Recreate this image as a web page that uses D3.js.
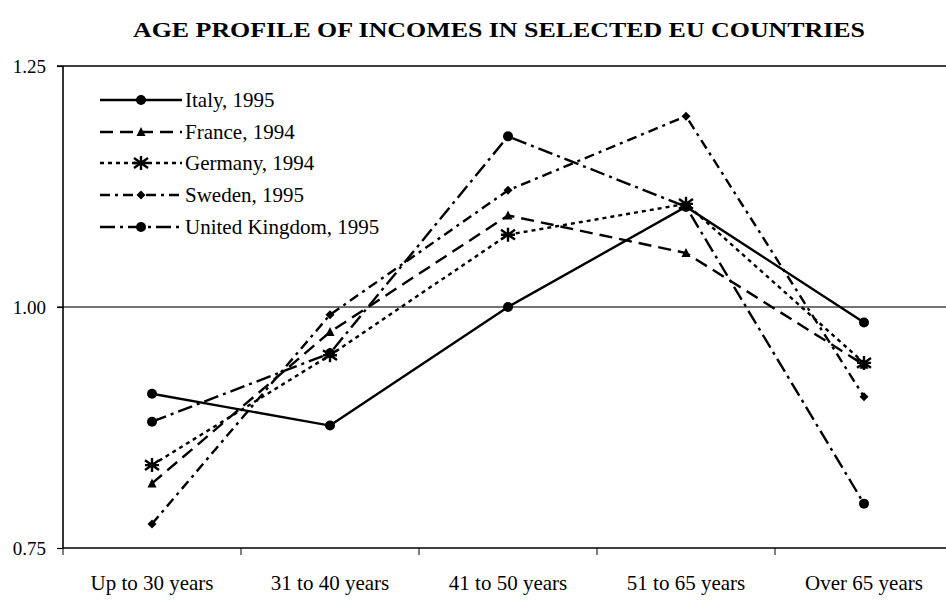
<!DOCTYPE html>
<html>
<head>
<meta charset="utf-8">
<script src="https://cdn.jsdelivr.net/npm/d3@7"></script>
<style>
  html, body { margin: 0; padding: 0; background: #fff; }
  svg { display: block; }
  text { font-family: "Liberation Serif", "Times New Roman", serif; fill: #000; }
</style>
</head>
<body>
<svg id="chart" width="946" height="601"></svg>
<script>
const categories = ["Up to 30 years", "31 to 40 years", "41 to 50 years", "51 to 65 years", "Over 65 years"];
const seriesNames = ["Italy, 1995", "France, 1994", "Germany, 1994", "Sweden, 1995", "United Kingdom, 1995"];
const italy   = [0.910, 0.877, 1.000, 1.104, 0.984];
const france  = [0.817, 0.974, 1.095, 1.056, 0.940];
const germany = [0.836, 0.950, 1.075, 1.107, 0.942];
const sweden  = [0.775, 0.992, 1.121, 1.198, 0.907];
const uk      = [0.881, 0.952, 1.177, 1.104, 0.796];
const yTicks = [0.75, 1.00, 1.25];
const title = "AGE PROFILE OF INCOMES IN SELECTED EU COUNTRIES";

const seriesValues = [italy, france, germany, sweden, uk];
const dashes = ["none", "13,7", "4,4", "10,5,3,5", "15,5,3,5"];
const markers = ["circle", "triangle", "asterisk", "diamond", "circle"];

const svg = d3.select("#chart");
const x = d3.scaleBand().domain(categories).range([63, 953]);
const y = d3.scaleLinear().domain([0.75, 1.25]).range([548, 66]);

// Title
svg.append("text").attr("x", 499).attr("y", 37)
  .attr("text-anchor", "middle").attr("font-weight", "bold").attr("font-size", 21)
  .attr("textLength", 732).attr("lengthAdjust", "spacingAndGlyphs")
  .text(title);

// Gridlines
svg.append("g").selectAll("line").data(yTicks.filter(d => d > 0.75)).join("line")
  .attr("x1", 57).attr("x2", 946).attr("y1", d => y(d)).attr("y2", d => y(d))
  .attr("stroke", d => d === 1.25 ? "#000" : "#444").attr("stroke-width", 1.3);

// Y axis
const yAxis = d3.axisLeft(y).tickValues(yTicks).tickFormat(d3.format(".2f")).tickSize(6).tickPadding(11);
const gy = svg.append("g").attr("transform", "translate(63,0)").call(yAxis);
gy.select(".domain").attr("stroke", "#000").attr("stroke-width", 1.6).attr("d", "M0,66V548");
gy.selectAll(".tick line").attr("stroke", "#000").attr("stroke-width", 1.2);
gy.selectAll("text").attr("font-family", "Liberation Serif, serif").attr("font-size", 19)
  .attr("fill", "#000").attr("dy", "0.35em");

// X axis
const gx = svg.append("g").attr("transform", "translate(0,548)");
gx.append("line").attr("x1", 63).attr("x2", 946).attr("y1", 0).attr("y2", 0)
  .attr("stroke", "#000").attr("stroke-width", 1.6);
const boundaries = categories.map(c => x(c));
gx.selectAll(".xt").data(boundaries).join("line").attr("class", "xt")
  .attr("x1", d => d).attr("x2", d => d).attr("y1", 0).attr("y2", 7)
  .attr("stroke", "#000").attr("stroke-width", 1);
gx.selectAll(".xl").data(categories).join("text").attr("class", "xl")
  .attr("x", d => x(d) + x.bandwidth() / 2).attr("y", 42)
  .attr("text-anchor", "middle").attr("font-size", 21).text(d => d);

const cx = c => x(c) + x.bandwidth() / 2;
const line = d3.line().x((d, i) => cx(categories[i])).y(d => y(d));

function drawMarker(g, type, px, py) {
  if (type === "circle") {
    g.append("circle").attr("cx", px).attr("cy", py).attr("r", 5).attr("fill", "#000");
  } else if (type === "triangle") {
    g.append("path").attr("d", `M${px},${py-5}L${px+4.5},${py+4}L${px-4.5},${py+4}Z`).attr("fill", "#000");
  } else if (type === "diamond") {
    g.append("path").attr("d", `M${px},${py-4.5}L${px+4.5},${py}L${px},${py+4.5}L${px-4.5},${py}Z`).attr("fill", "#000");
  } else if (type === "asterisk") {
    const r = 7;
    const p = `M${px},${py-r}V${py+r}M${px-r},${py-r*0.7}L${px+r},${py+r*0.7}M${px-r},${py+r*0.7}L${px+r},${py-r*0.7}M${px-r},${py}H${px+r}`;
    g.append("path").attr("d", p).attr("stroke", "#000").attr("stroke-width", 2.4).attr("fill", "none");
  }
}

// Lines
seriesValues.forEach((vals, si) => {
  const g = svg.append("g");
  g.append("path").attr("d", line(vals)).attr("fill", "none").attr("stroke", "#000")
    .attr("stroke-width", 2.4).attr("stroke-dasharray", dashes[si]);
  vals.forEach((v, i) => drawMarker(g, markers[si], cx(categories[i]), y(v)));
});

// Legend
const legendY = [100, 132, 163, 195, 227];
seriesNames.forEach((name, si) => {
  const g = svg.append("g");
  const ly = legendY[si];
  g.append("line").attr("x1", 100).attr("x2", 182).attr("y1", ly).attr("y2", ly)
    .attr("stroke", "#000").attr("stroke-width", 2.4).attr("stroke-dasharray", dashes[si]);
  drawMarker(g, markers[si], 141, ly);
  g.append("text").attr("x", 185).attr("y", ly + 7).attr("font-size", 21).text(name);
});
</script>
</body>
</html>
